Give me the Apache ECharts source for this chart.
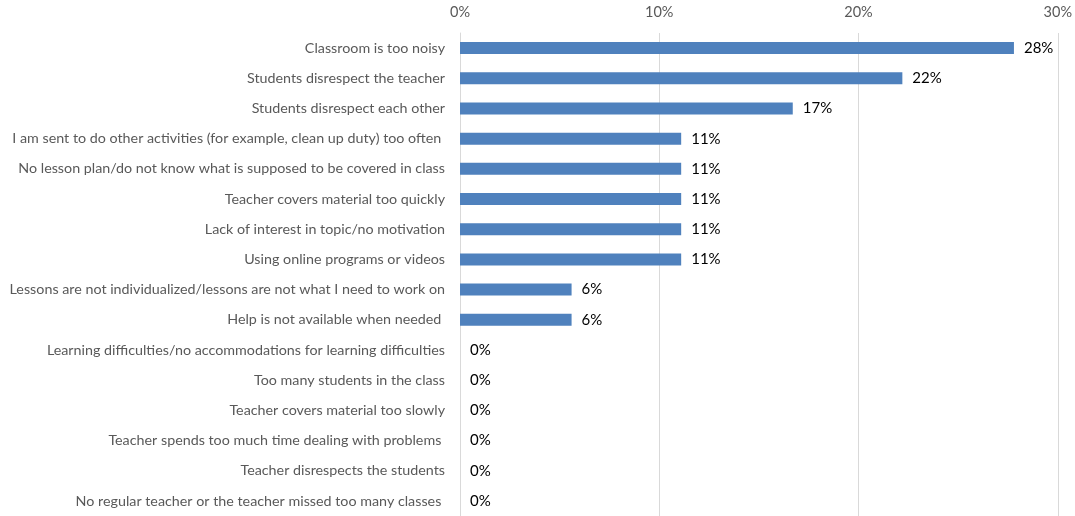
<!DOCTYPE html>
<html>
<head>
<meta charset="utf-8">
<script src="https://cdn.jsdelivr.net/npm/echarts@6/dist/echarts.min.js"></script>
<style>
  html, body { margin: 0; padding: 0; background: #fff; }
  #chart { width: 1075px; height: 516px; }
</style>
</head>
<body>
<div id="chart"></div>
<script>
// Reasons given for classroom problems (share of respondents, %), top to bottom
const categories = [
  'Classroom is too noisy',
  'Students disrespect the teacher',
  'Students disrespect each other',
  'I am sent to do other activities (for example, clean up duty) too often ',
  'No lesson plan/do not know what is supposed to be covered in class',
  'Teacher covers material too quickly',
  'Lack of interest in topic/no motivation',
  'Using online programs or videos',
  'Lessons are not individualized/lessons are not what I need to work on',
  'Help is not available when needed ',
  'Learning difficulties/no accommodations for learning difficulties',
  'Too many students in the class',
  'Teacher covers material too slowly',
  'Teacher spends too much time dealing with problems ',
  'Teacher disrespects the students',
  'No regular teacher or the teacher missed too many classes '
];
const shares = [27.8, 22.2, 16.7, 11.1, 11.1, 11.1, 11.1, 11.1, 5.6, 5.6, 0, 0, 0, 0, 0, 0];
const tickValues = [0, 10, 20, 30];

const FONT = 'Lato, "Liberation Sans", sans-serif';
const chart = echarts.init(document.getElementById('chart'), null, { renderer: 'canvas' });

chart.setOption({
  animation: false,
  backgroundColor: '#ffffff',
  grid: { left: 460, right: 16, top: 33, bottom: 0, containLabel: false },
  xAxis: {
    type: 'value',
    position: 'top',
    min: tickValues[0],
    max: tickValues[tickValues.length - 1],
    interval: tickValues[1] - tickValues[0],
    axisLine: { show: false },
    axisTick: { show: false },
    axisLabel: {
      color: '#595959', fontSize: 14.5, fontFamily: FONT, margin: 13,
      formatter: v => v + '%'
    },
    splitLine: { show: true, lineStyle: { color: '#d9d9d9', width: 1 } }
  },
  yAxis: {
    type: 'category',
    inverse: true,
    data: categories,
    axisLine: { show: true, lineStyle: { color: '#d9d9d9', width: 1 } },
    axisTick: { show: false },
    axisLabel: { color: '#595959', fontSize: 14.3, fontFamily: FONT, margin: 15 }
  },
  series: [{
    type: 'bar',
    data: shares,
    barWidth: 12,
    itemStyle: { color: '#4f81bd' },
    label: {
      show: true,
      position: 'right',
      distance: 10,
      color: '#000000',
      fontSize: 15,
      fontFamily: FONT,
      formatter: p => Math.round(p.value) + '%'
    }
  }]
});
</script>
</body>
</html>
